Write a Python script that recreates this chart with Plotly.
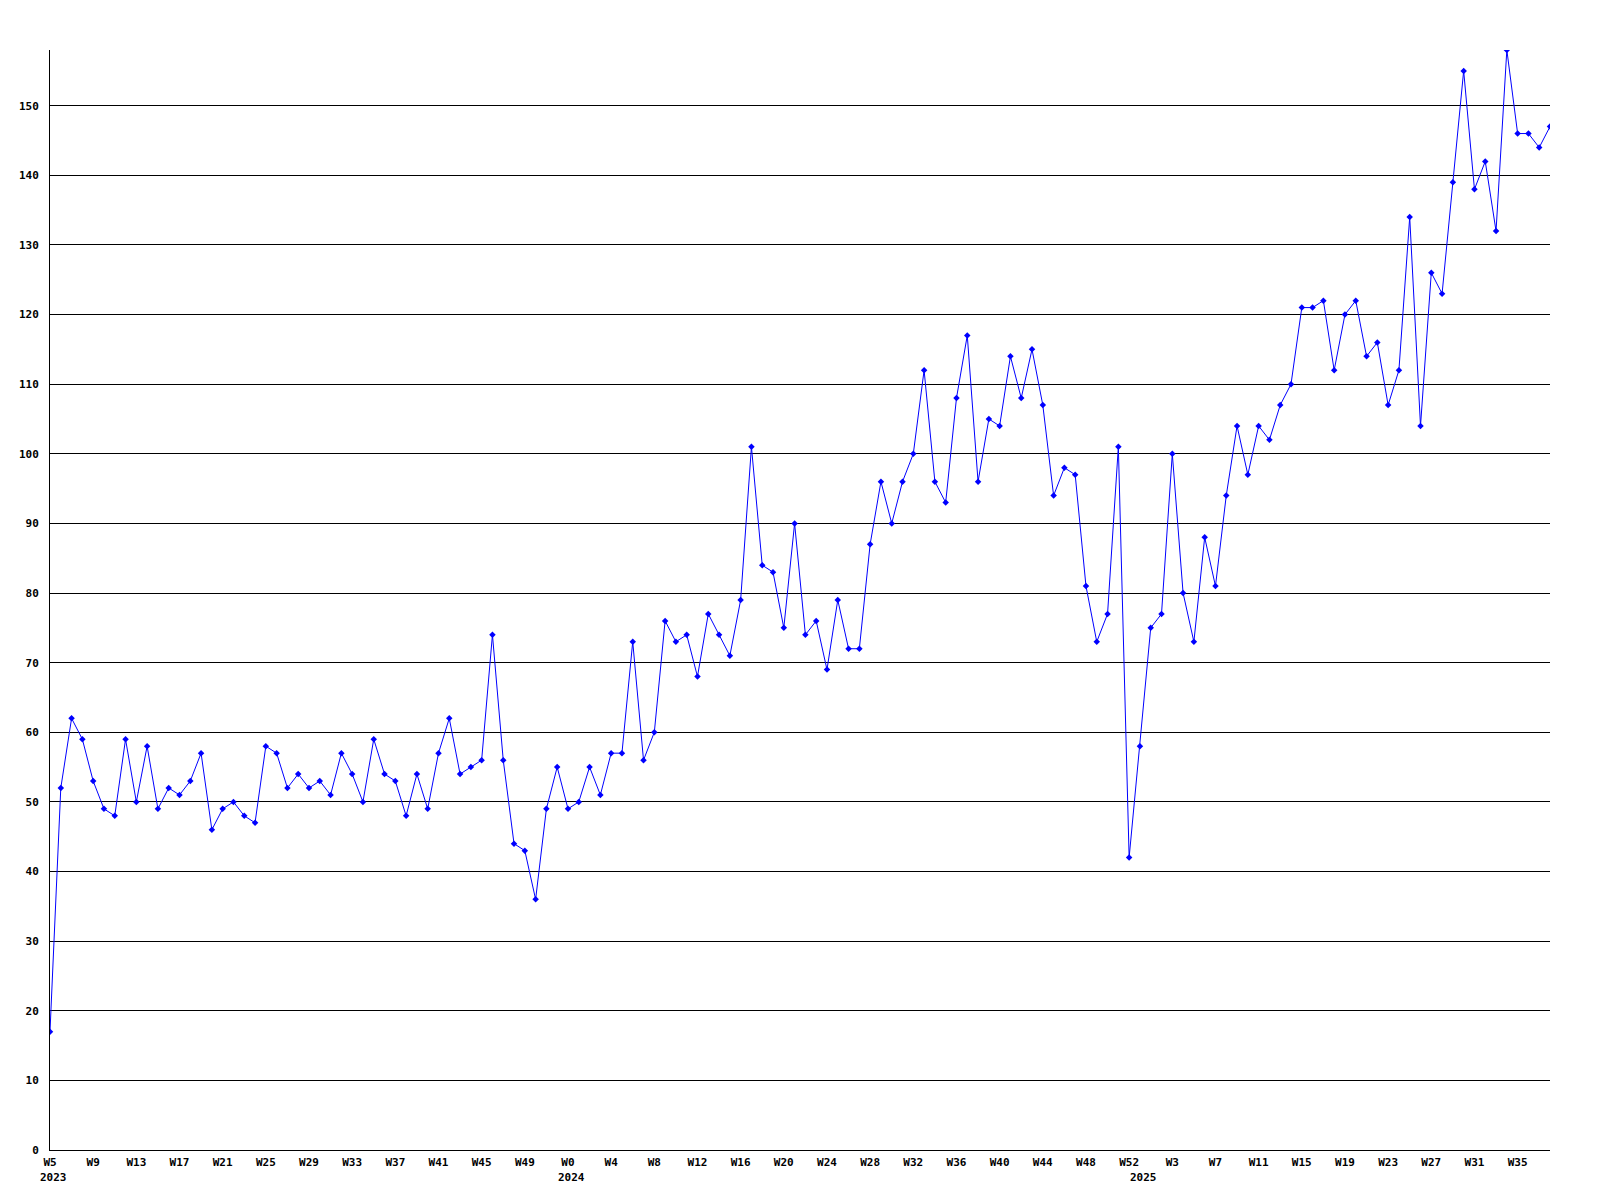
import plotly.graph_objects as go

# Year segments: (year, first week, last week)
year_spans = [(2023, 5, 52), (2024, 0, 52), (2025, 0, 38)]

values = [
    17, 52, 62, 59, 53, 49, 48, 59, 50, 58, 49, 52, 51, 53, 57, 46, 49, 50, 48, 47,
    58, 57, 52, 54, 52, 53, 51, 57, 54, 50, 59, 54, 53, 48, 54, 49, 57, 62, 54, 55,
    56, 74, 56, 44, 43, 36, 49, 55,
    49, 50, 55, 51, 57, 57, 73, 56, 60, 76, 73, 74, 68, 77, 74, 71, 79, 101, 84, 83,
    75, 90, 74, 76, 69, 79, 72, 72, 87, 96, 90, 96, 100, 112, 96, 93, 108, 117, 96, 105,
    104, 114, 108, 115, 107, 94, 98, 97, 81, 73, 77, 101, 42,
    58, 75, 77, 100, 80, 73, 88, 81, 94, 104, 97, 104, 102, 107, 110, 121, 121, 122, 112, 120,
    122, 114, 116, 107, 112, 134, 104, 126, 123, 139, 155, 138, 142, 132, 158, 146, 146, 144, 147,
]

y_ticks = list(range(0, 151, 10))

categories = []
week_labels = []
year_of = []
for yr, w0, w1 in year_spans:
    for w in range(w0, w1 + 1):
        categories.append(f"{yr}-W{w}")
        week_labels.append(f"W{w}")
        year_of.append(yr)

idx = list(range(len(values)))
tick_idx = [i for i in idx[::4] if i <= 136]

fig = go.Figure()
fig.add_trace(go.Scatter(
    x=idx, y=values, mode="lines+markers",
    line=dict(color="#0000ff", width=1),
    marker=dict(symbol="diamond", size=5, color="#0000ff"),
    cliponaxis=True, hoverinfo="skip",
))

font = dict(family="DejaVu Sans Mono", size=11, color="black", weight="bold")

# year labels at the first week of each year
annotations = []
seen = set()
for i in idx:
    yr = year_of[i]
    if yr not in seen:
        seen.add(yr)
        annotations.append(dict(
            x=i, y=0, xref="x", yref="y", text=str(yr), showarrow=False,
            xanchor="left", yanchor="top", xshift=-12, yshift=-19, font=font,
        ))

fig.update_layout(
    width=1600, height=1200,
    margin=dict(l=42, r=58, t=42, b=58, autoexpand=False),
    paper_bgcolor="white", plot_bgcolor="white",
    showlegend=False,
    annotations=annotations,
    xaxis=dict(
        range=[0, len(values) - 1],
        tickvals=tick_idx, ticktext=[week_labels[i] for i in tick_idx],
        tickangle=0, automargin=False,
        showgrid=False, zeroline=False,
        showline=True, linecolor="black", linewidth=1,
        ticks="outside", ticklen=2, tickcolor="rgba(0,0,0,0)",
        tickfont=font,
    ),
    yaxis=dict(
        range=[0, max(values)], automargin=False,
        tickvals=y_ticks, ticktext=[str(v) for v in y_ticks],
        showgrid=True, gridcolor="black", gridwidth=1,
        zeroline=False,
        showline=True, linecolor="black", linewidth=1,
        ticks="outside", ticklen=8, tickcolor="rgba(0,0,0,0)",
        tickfont=font,
    ),
)

fig.write_html("out.html")
